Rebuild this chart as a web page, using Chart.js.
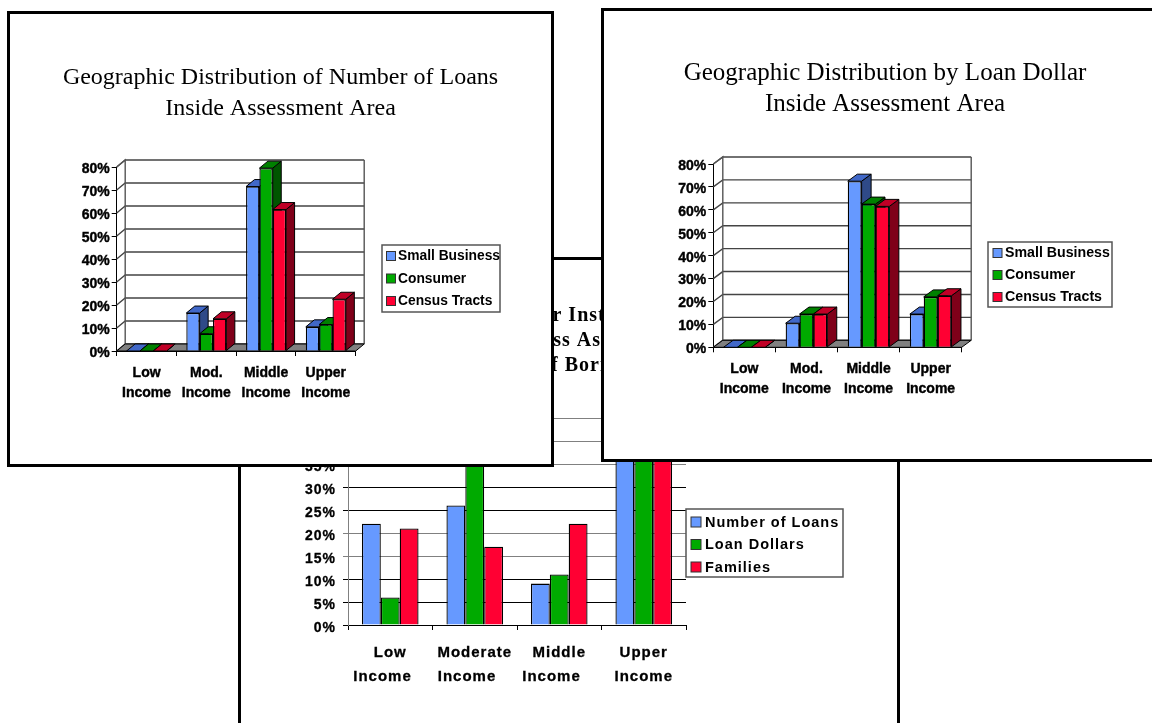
<!DOCTYPE html>
<html>
<head>
<meta charset="utf-8">
<script src="https://cdn.jsdelivr.net/npm/chart.js@4"></script>
<style>
  html, body { margin: 0; padding: 0; background: #fff; width: 1152px; height: 723px; overflow: hidden; }
  .card { position: absolute; background: #fff; border: 3px solid #000; box-sizing: content-box; }
  .card canvas { display: block; }
</style>
</head>
<body>
<div class="card" id="cardBorrower" style="left:238px;top:257px;width:656px;height:520px"><canvas id="borrower" width="656" height="520"></canvas></div>
<div class="card" id="cardLoans" style="left:7px;top:11px;width:541px;height:450px"><canvas id="loans" width="541" height="450"></canvas></div>
<div class="card" id="cardDollars" style="left:601px;top:8px;width:562px;height:448px"><canvas id="dollars" width="562" height="448"></canvas></div>

<script>
// Values, in percent
const loanCategories = [['Low', 'Income'], ['Mod.', 'Income'], ['Middle', 'Income'], ['Upper', 'Income']];
const loanSmallBusiness = [0, 16.5, 71.5, 10.5];
const loanConsumer = [0, 7.5, 79.5, 11.5];
const loanCensusTracts = [0, 14, 61.5, 22.5];
const loanTitle = ['Geographic Distribution of Number of Loans', 'Inside Assessment Area'];

const dollarCategories = [['Low', 'Income'], ['Mod.', 'Income'], ['Middle', 'Income'], ['Upper', 'Income']];
const dollarSmallBusiness = [0, 10.5, 72.5, 14.5];
const dollarConsumer = [0, 14.5, 62.5, 22];
const dollarCensusTracts = [0, 14.5, 61.5, 22.5];
const dollarTitle = ['Geographic Distribution by Loan Dollar', 'Inside Assessment Area'];

const borrowerCategories = [['Low', 'Income   '], ['Moderate', 'Income   '], ['Middle', 'Income   '], ['Upper', 'Income']];
const borrowerLoans = [22, 26, 9, 43];
const borrowerDollars = [6, 37, 11, 44];
const borrowerFamilies = [21, 17, 22, 40];
const borrowerTitle = ['Loan Distribution for Institution Borrowers ', 'Borrowers Across Assessment Area', 'Level of Borrower'];

const seriesThreeD = ['Small Business', 'Consumer', 'Census Tracts'];
const seriesBorrower = ['Number of Loans', 'Loan Dollars', 'Families'];

// Face colours per series
const frontColors = ['#6699ff', '#00aa00', '#ff0033'];
const sideColors = ['#2f4a88', '#005500', '#7f0019'];
const topColors = ['#4168c8', '#008000', '#c00026'];

const SANS = '"Liberation Sans", Arial, sans-serif';
const SERIF = '"Liberation Serif", "Times New Roman", serif';

// Draws the back wall, side wall, floor and the receding faces of each bar
const depthPlugin = {
  id: 'depth',
  beforeDatasetsDraw(chart, args, o) {
    if (!o.dx) return;
    const { ctx, chartArea: a, scales: { y } } = chart;
    const { dx, dy } = o;
    ctx.save();
    ctx.lineWidth = 1.4;
    ctx.strokeStyle = '#444';
    y.ticks.forEach(t => {
      const p = y.getPixelForValue(t.value);
      ctx.beginPath();
      ctx.moveTo(a.left, p);
      ctx.lineTo(a.left + dx, p + dy);
      ctx.lineTo(a.right + dx, p + dy);
      ctx.stroke();
    });
    ctx.strokeStyle = '#555';
    ctx.beginPath();
    ctx.moveTo(a.left, a.top);
    ctx.lineTo(a.left + dx, a.top + dy);
    ctx.lineTo(a.left + dx, a.bottom + dy);
    ctx.moveTo(a.right + dx, a.top + dy);
    ctx.lineTo(a.right + dx, a.bottom + dy);
    ctx.stroke();
    ctx.lineWidth = 1;
    ctx.strokeStyle = '#000';
    ctx.fillStyle = '#808080';
    ctx.beginPath();
    ctx.moveTo(a.left, a.bottom);
    ctx.lineTo(a.right, a.bottom);
    ctx.lineTo(a.right + dx, a.bottom + dy);
    ctx.lineTo(a.left + dx, a.bottom + dy);
    ctx.closePath();
    ctx.fill();
    ctx.stroke();

    const count = chart.data.labels.length;
    for (let c = 0; c < count; c++) {
      chart.data.datasets.forEach((ds, s) => {
        const bar = chart.getDatasetMeta(s).data[c];
        const l = bar.x - bar.width / 2, r = bar.x + bar.width / 2;
        ctx.fillStyle = sideColors[s];
        ctx.beginPath();
        ctx.moveTo(r, bar.y);
        ctx.lineTo(r + dx, bar.y + dy);
        ctx.lineTo(r + dx, bar.base + dy);
        ctx.lineTo(r, bar.base);
        ctx.closePath();
        ctx.fill();
        ctx.stroke();
        ctx.fillStyle = topColors[s];
        ctx.beginPath();
        ctx.moveTo(l, bar.y);
        ctx.lineTo(r, bar.y);
        ctx.lineTo(r + dx, bar.y + dy);
        ctx.lineTo(l + dx, bar.y + dy);
        ctx.closePath();
        ctx.fill();
        ctx.stroke();
      });
    }
    ctx.restore();
  }
};

// Boxed legend at a fixed place beside the plot
const boxLegendPlugin = {
  id: 'boxLegend',
  afterDraw(chart, args, o) {
    const { ctx } = chart;
    ctx.save();
    ctx.fillStyle = '#fff';
    ctx.strokeStyle = '#555';
    ctx.lineWidth = 1.5;
    ctx.fillRect(o.x, o.y, o.w, o.h);
    ctx.strokeRect(o.x, o.y, o.w, o.h);
    ctx.font = o.font;
    ctx.textBaseline = 'middle';
    ctx.textAlign = 'left';
    chart.data.datasets.forEach((ds, i) => {
      const cy = o.y + o.firstRow + i * o.rowStep;
      ctx.fillStyle = ds.backgroundColor;
      ctx.strokeStyle = '#333';
      ctx.lineWidth = 1;
      ctx.fillRect(o.x + o.swatchX, cy - o.swatch / 2, o.swatch, o.swatch);
      ctx.strokeRect(o.x + o.swatchX, cy - o.swatch / 2, o.swatch, o.swatch);
      ctx.fillStyle = '#000';
      ctx.fillText(ds.label, o.x + o.textX, cy + 0.5);
    });
    ctx.restore();
  }
};

// Keeps the title centred on the whole card and applies text tracking
const cardPlugin = {
  id: 'card',
  beforeUpdate(chart, args, o) {
    chart.ctx.letterSpacing = o.tracking || '0px';
  },
  afterLayout(chart) {
    chart.titleBlock.left = 0;
    chart.titleBlock.right = chart.width;
  }
};

function makeChart(id, g, categories, names, values, title) {
  const canvas = document.getElementById(id);
  const W = canvas.width, H = canvas.height;
  return new Chart(canvas, {
    type: 'bar',
    plugins: [depthPlugin, boxLegendPlugin, cardPlugin],
    data: {
      labels: categories,
      datasets: names.map((n, i) => ({
        label: n,
        data: values[i],
        backgroundColor: frontColors[i],
        borderColor: '#000',
        borderWidth: 1.3,
        categoryPercentage: 0.67,
        barPercentage: 1
      }))
    },
    options: {
      responsive: false,
      animation: false,
      events: [],
      layout: { padding: { left: 0, top: 0, bottom: 0, right: W - g.right } },
      plugins: {
        legend: { display: false },
        tooltip: { enabled: false },
        title: {
          display: true,
          text: title,
          color: '#000',
          align: 'center',
          font: { family: SERIF, size: g.titleSize, weight: g.titleWeight, lineHeight: g.titleLine / g.titleSize },
          padding: { top: g.titleTop, bottom: g.top - g.titleTop - title.length * g.titleLine }
        },
        depth: { dx: g.dx, dy: g.dy },
        boxLegend: g.legend,
        card: { tracking: g.tracking }
      },
      scales: {
        x: {
          afterFit(s) { s.height = H - g.bottom; },
          grid: { drawOnChartArea: false, drawTicks: true, tickLength: 5, color: '#000' },
          border: { color: '#000' },
          ticks: {
            color: '#000',
            padding: g.xPad,
            maxRotation: 0,
            autoSkip: false,
            textStrokeColor: '#000',
            textStrokeWidth: g.heavy,
            font: { family: SANS, size: g.xSize, weight: 'bold', lineHeight: g.xLine / g.xSize }
          }
        },
        y: {
          min: 0,
          max: g.max,
          afterFit(s) { s.width = g.left; },
          grid: g.dx
            ? { drawOnChartArea: false, drawTicks: true, tickLength: 5, color: '#000' }
            : { color: c => g.grid[c.index] || '#808080', tickLength: 5 },
          border: { color: g.dx ? '#000' : '#808080' },
          ticks: {
            stepSize: g.step,
            color: '#000',
            padding: g.yPad,
            labelOffset: g.yShift,
            textStrokeColor: '#000',
            textStrokeWidth: g.heavy,
            callback: v => v + '%',
            font: { family: SANS, size: g.ySize, weight: 'bold' }
          }
        }
      }
    }
  });
}

makeChart('borrower', {
  left: 107, right: 445, top: 158, bottom: 365, max: 45, step: 5, dx: 0, dy: 0, heavy: 0.3,
  titleSize: 20, titleWeight: 'bold', titleLine: 25, titleTop: 43, tracking: '1px',
  xSize: 15, xLine: 24, xPad: 11, ySize: 14, yPad: 7, yShift: 3,
  grid: ['#000', '#000', '#000', '#808080', '#808080', '#000', '#000', '#808080', '#808080', '#808080'],
  legend: { x: 445, y: 249, w: 157, h: 68, font: 'bold 14.5px ' + SANS, swatch: 10, swatchX: 5, textX: 19, firstRow: 13, rowStep: 22.5 }
}, borrowerCategories, seriesBorrower, [borrowerLoans, borrowerDollars, borrowerFamilies], borrowerTitle);

makeChart('loans', {
  left: 106.7, right: 345.7, top: 153, bottom: 337, max: 80, step: 10, dx: 8.5, dy: -7, heavy: 0.4,
  titleSize: 24, titleWeight: 'normal', titleLine: 31, titleTop: 48,
  xSize: 14, xLine: 20, xPad: 7, ySize: 14, yPad: 2, yShift: 2,
  legend: { x: 372, y: 231, w: 118, h: 67, font: 'bold 13.8px ' + SANS, swatch: 9, swatchX: 4.5, textX: 16, firstRow: 11, rowStep: 22.5 }
}, loanCategories, seriesThreeD, [loanSmallBusiness, loanConsumer, loanCensusTracts], loanTitle);

makeChart('dollars', {
  left: 109.3, right: 357.7, top: 153, bottom: 336.3, max: 80, step: 10, dx: 9.5, dy: -7, heavy: 0.4,
  titleSize: 25, titleWeight: 'normal', titleLine: 31, titleTop: 47,
  xSize: 14, xLine: 20, xPad: 7, ySize: 14, yPad: 2, yShift: 2,
  legend: { x: 384, y: 231, w: 124, h: 65, font: 'bold 14.2px ' + SANS, swatch: 9, swatchX: 5, textX: 17, firstRow: 11, rowStep: 22 }
}, dollarCategories, seriesThreeD, [dollarSmallBusiness, dollarConsumer, dollarCensusTracts], dollarTitle);
</script>
</body>
</html>
